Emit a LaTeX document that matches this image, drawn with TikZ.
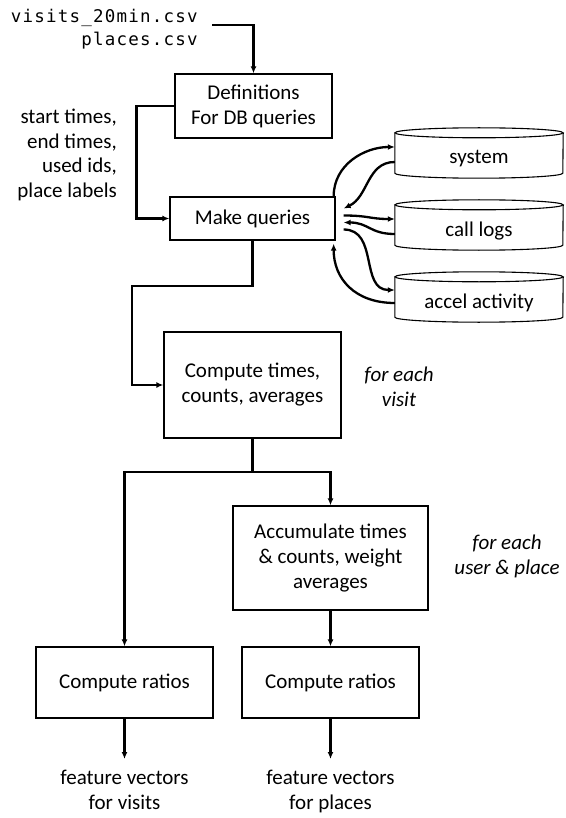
\documentclass[tikz,border=0pt]{standalone}
\usepackage{fontspec}
\setmainfont{Carlito}
\newfontfamily\monofont[LetterSpace=7]{DejaVu Sans Mono}
\usetikzlibrary{arrows.meta,calc}
\newcommand\dbcyl[4]{% name, center x, top-ellipse y, label
  \node[cylbody] (#1) at (#2,#3+20) {};
  \draw[cylline] (#1.north west) -- (#1.south west)
    arc[start angle=180,end angle=360,x radius=84pt,y radius=5pt] -- (#1.north east);
  \draw[cylline] (#1.north) ellipse[x radius=84pt,y radius=5pt];
  \node[txt] (#1txt) at (#2,#3+26) {#4};
}
\begin{document}
\begin{tikzpicture}[x=1pt,y=-1pt,
  mainfont/.style={font=\fontsize{21}{25}\selectfont},
  box/.style={draw, line width=1.3pt, inner sep=0pt, align=center, mainfont},
  txt/.style={inner sep=0pt, align=center, mainfont},
  note/.style={inner sep=0pt, align=center, font=\fontsize{21}{25}\selectfont\itshape},
  outtxt/.style={inner xsep=0pt, inner ysep=11pt, align=center, anchor=north, mainfont},
  cylbody/.style={minimum width=168pt, minimum height=40pt, inner sep=0pt},
  cylline/.style={line width=1.1pt},
  conn/.style={line width=2.3pt},
  arr/.style={conn, -{Latex[length=7pt,width=6pt]}}
]
\useasboundingbox (0,0) rectangle (565,818);

% inputs
\node[inner sep=0pt, align=right, anchor=east,
      font=\monofont\fontsize{17.5}{23}\selectfont] (csv) at (198,29)
      {visits\_20min.csv\\places.csv};

\node[inner sep=0pt, align=right, anchor=east,
      font=\fontsize{21}{24.7}\selectfont] (lbl) at (117,155)
      {start times,\\end times,\\used ids,\\place labels};

% boxes
\node[box, minimum width=157pt, minimum height=64pt] (def) at (253.5,106)
      {Definitions\\For DB queries};
\node[box, minimum width=165pt, minimum height=43pt] (mq) at (252.5,218.5)
      {Make queries};
\node[box, minimum width=177pt, minimum height=106pt] (comp) at (252.5,385)
      {Compute times,\\counts, averages};
\node[box, minimum width=195pt, minimum height=104pt] (acc) at (330.5,558)
      {Accumulate times\\\& counts, weight\\averages};
\node[box, minimum width=177pt, minimum height=71pt] (cr1) at (124.5,682.5)
      {Compute ratios};
\node[box, minimum width=177pt, minimum height=71pt] (cr2) at (330.5,682.5)
      {Compute ratios};

% notes
\node[note] (fe1) at (399,386.5) {for each\\visit};
\node[note] (fe2) at (507,556.5) {for each\\user \& place};

% outputs
\node[outtxt] (out1) at (124.5,759) {feature vectors\\for visits};
\node[outtxt] (out2) at (330.5,759) {feature vectors\\for places};

% databases
\dbcyl{sys}{479}{133}{system}
\dbcyl{call}{479}{205}{call logs}
\dbcyl{accel}{479}{277}{accel activity}

% connectors
\draw[arr] ([xshift=14pt,yshift=4pt]csv.east) -| (def.north);
\draw[arr] (def.west) -- ++(-38,0) |- (mq.west);
\coordinate (j1) at (132,286);
\draw[arr] (mq.south) |- (j1) |- (comp.west);
\coordinate (j2) at (252.5,472);
\draw[conn] (comp.south) -- (j2);
\draw[arr] (j2) -| (acc.north);
\draw[arr] (j2) -| (cr1.north);
\draw[arr] (acc.south) -- (cr2.north);
\draw[arr] (cr1.south) -- (out1.north);
\draw[arr] (cr2.south) -- (out2.north);

% database links
\draw[arr] ([xshift=-2pt]mq.north east) .. controls +(0,-32) and +(-30,0) .. ([yshift=6pt]sys.west);
\draw[arr] ([yshift=-9pt]sys.west) .. controls +(-28,0) and +(25,-12) .. ([xshift=8pt,yshift=10pt]mq.east);
\draw[arr] ([xshift=8pt,yshift=3pt]mq.east) .. controls +(25,0) and +(-25,0) .. ([yshift=6pt]call.west);
\draw[arr] ([yshift=-9pt]call.west) .. controls +(-25,0) and +(25,0) .. ([xshift=8pt,yshift=-4pt]mq.east);
\draw[arr] ([xshift=8pt,yshift=-11pt]mq.east) .. controls +(35,0) and +(-35,0) .. ([yshift=7pt]accel.west);
\draw[arr] ([yshift=-6pt]accel.west) .. controls +(-40,0) and +(0,35) .. ([xshift=-2pt,yshift=-3pt]mq.south east);
\end{tikzpicture}
\end{document}
